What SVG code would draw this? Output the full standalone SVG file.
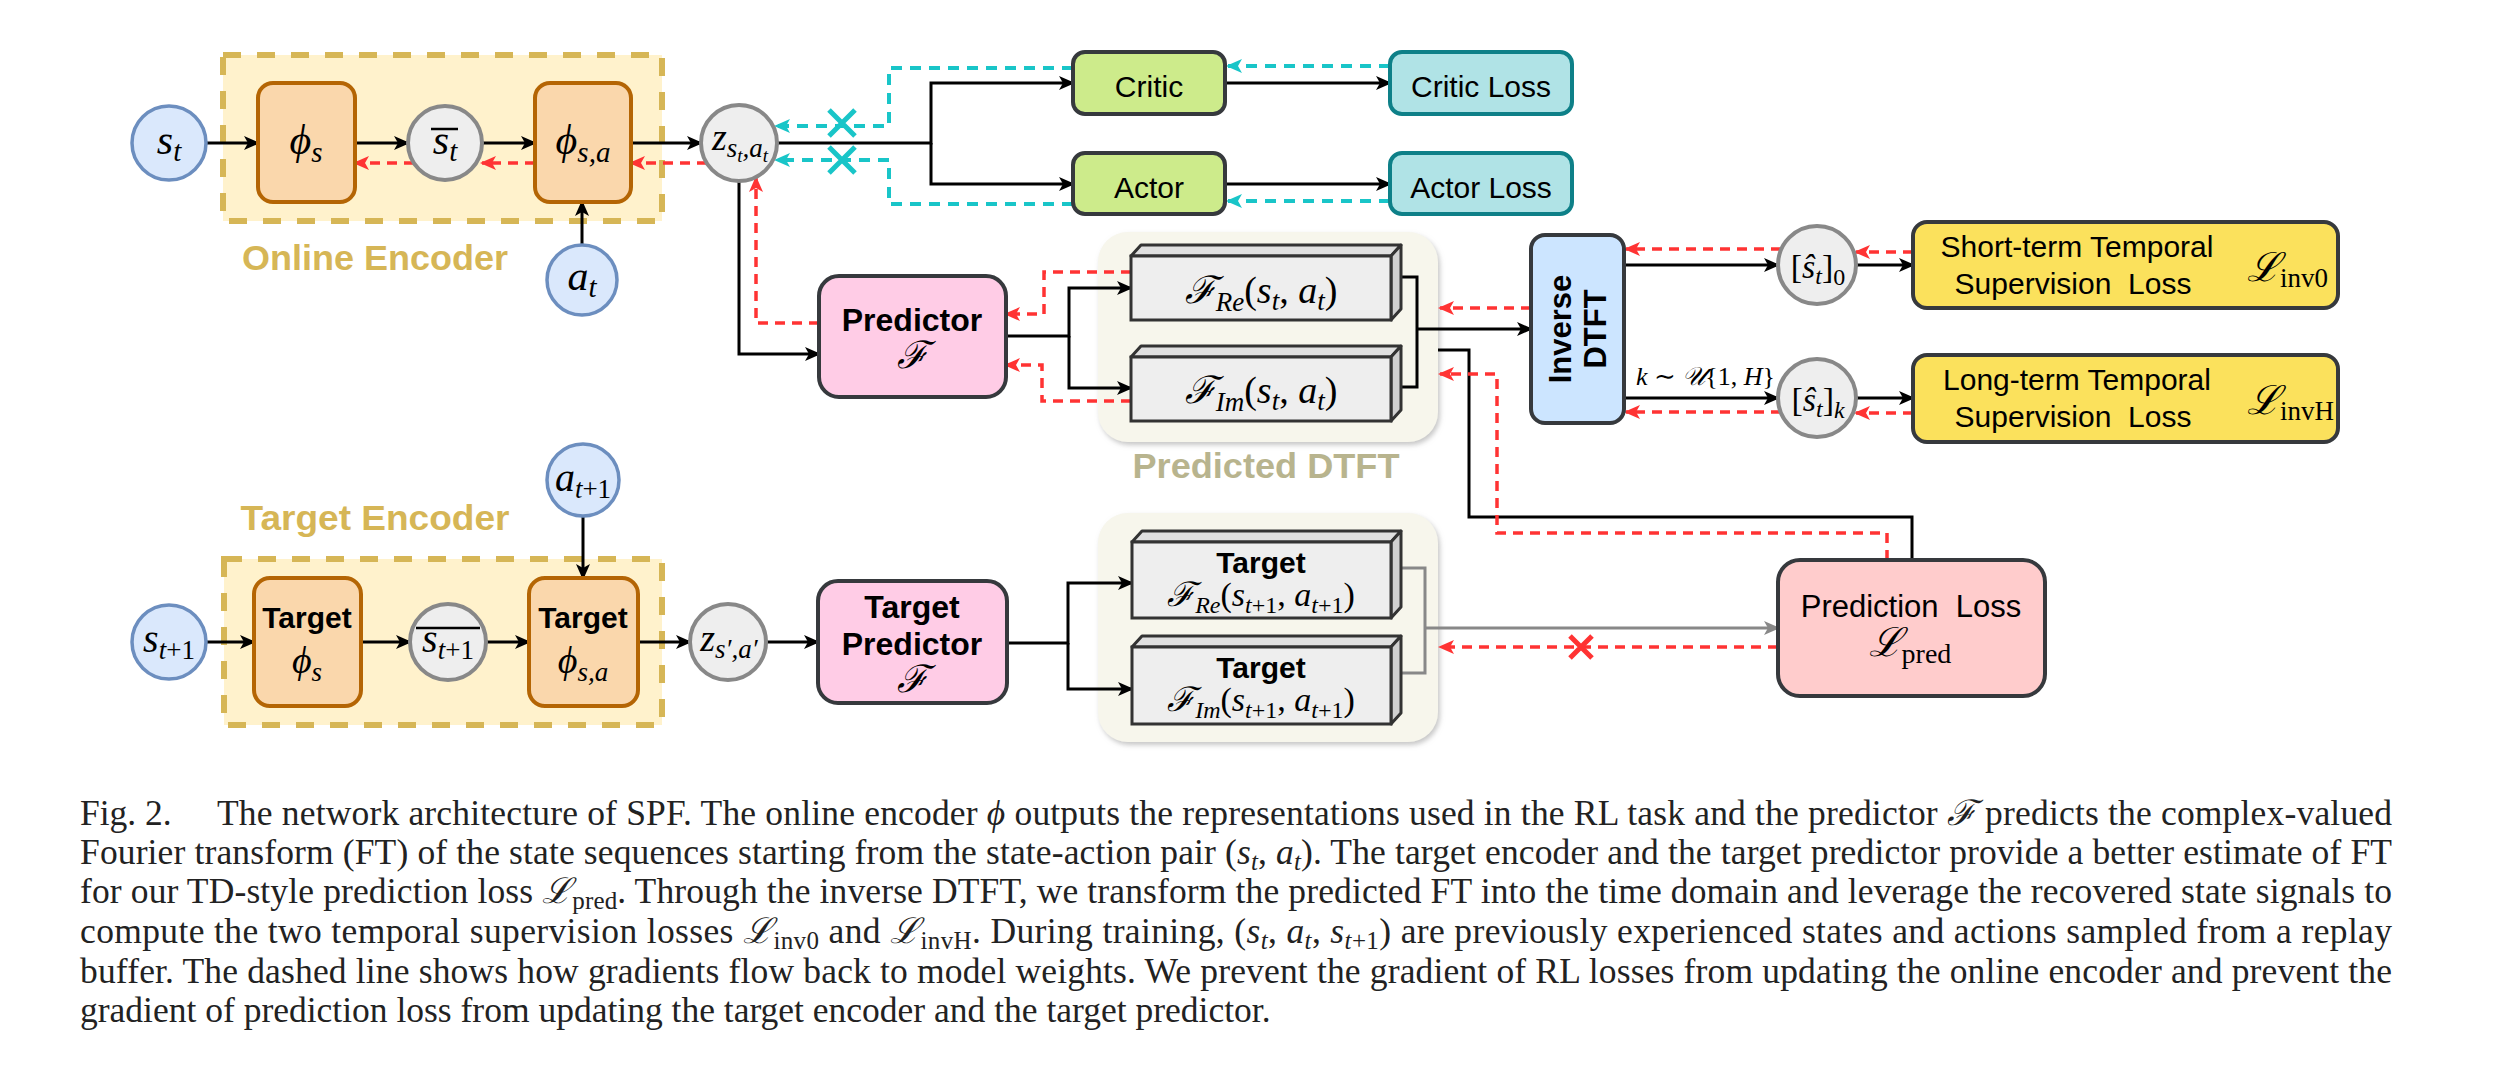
<svg xmlns="http://www.w3.org/2000/svg" width="2493" height="1068" viewBox="0 0 2493 1068">
<style>
.ln{fill:none;stroke:#000;stroke-width:3}
.rd{fill:none;stroke:#ff3333;stroke-width:3.5;stroke-dasharray:10 7}
.cy{fill:none;stroke:#19c5c8;stroke-width:4;stroke-dasharray:11 8}
.gy{fill:none;stroke:#888;stroke-width:3}
.xr{stroke:#ff3333;stroke-width:5;fill:none}
.xc{stroke:#19c5c8;stroke-width:5;fill:none}
.m{font-family:"Liberation Serif","DejaVu Serif",serif;font-style:italic;fill:#000}
.rm{font-style:normal}
.s{font-family:"Liberation Sans",Arial,sans-serif;fill:#000}
.b{font-weight:bold}
.bl{fill:#dae8fc;stroke:#6c8ebf;stroke-width:3.5}
.gc{fill:#eeeeee;stroke:#888888;stroke-width:4}
.or{fill:#fad7ac;stroke:#b46504;stroke-width:4}
.enc{fill:#fff2cc;stroke:#d6b656;stroke-width:6;stroke-dasharray:18 16}
.dk{stroke:#36393d;stroke-width:4}
.ff{fill:#eeeeee;stroke:#333;stroke-width:3}
.ft{fill:#e0e0e0;stroke:#333;stroke-width:3;stroke-linejoin:round}
.fr{fill:#d0d0d0;stroke:#333;stroke-width:3;stroke-linejoin:round}
.cap{font-family:"Liberation Serif","DejaVu Serif",serif;font-size:35.5px;fill:#222}
</style>
<defs>
<marker id="ab" viewBox="0 0 16 14" refX="14" refY="7" markerWidth="16" markerHeight="14" markerUnits="userSpaceOnUse" orient="auto"><path d="M0,0 L16,7 L0,14 L4,7 z" fill="#000"/></marker>
<marker id="ar" viewBox="0 0 16 14" refX="14" refY="7" markerWidth="16" markerHeight="14" markerUnits="userSpaceOnUse" orient="auto"><path d="M0,0 L16,7 L0,14 L4,7 z" fill="#ff3333"/></marker>
<marker id="ac" viewBox="0 0 16 14" refX="14" refY="7" markerWidth="16" markerHeight="14" markerUnits="userSpaceOnUse" orient="auto"><path d="M0,0 L16,7 L0,14 L4,7 z" fill="#19c5c8"/></marker>
<marker id="ag" viewBox="0 0 16 14" refX="14" refY="7" markerWidth="16" markerHeight="14" markerUnits="userSpaceOnUse" orient="auto"><path d="M0,0 L16,7 L0,14 L4,7 z" fill="#888"/></marker>
<filter id="sh" x="-5%" y="-5%" width="110%" height="115%"><feDropShadow dx="2" dy="3" stdDeviation="2.5" flood-color="#999" flood-opacity="0.55"/></filter>
</defs>
<rect width="2493" height="1068" fill="#fff"/>

<!-- containers -->
<g id="online-encoder">
<rect class="enc" x="223" y="55" width="439" height="166"/>
<text class="s b" x="375" y="270" text-anchor="middle" font-size="35" style="fill:#d6b656" textLength="266" lengthAdjust="spacingAndGlyphs">Online Encoder</text>
</g>
<g id="target-encoder">
<rect class="enc" x="224" y="559" width="438" height="166"/>
<text class="s b" x="375" y="530" text-anchor="middle" font-size="35" style="fill:#d6b656" textLength="269" lengthAdjust="spacingAndGlyphs">Target Encoder</text>
</g>
<g id="predicted-dtft">
<rect x="1098" y="232" width="340" height="210" rx="30" fill="#f7f6ec" filter="url(#sh)"/>
<text class="s b" x="1266" y="478" text-anchor="middle" font-size="35" style="fill:#b8b48e" textLength="267" lengthAdjust="spacingAndGlyphs">Predicted DTFT</text>
</g>
<g id="target-dtft">
<rect x="1098" y="513" width="340" height="229" rx="30" fill="#f7f6ec" filter="url(#sh)"/>
</g>

<!-- connectors -->
<g id="connectors">
<path class="ln" marker-end="url(#ab)" d="M206,143 H258"/>
<path class="ln" marker-end="url(#ab)" d="M355,143 H408"/>
<path class="ln" marker-end="url(#ab)" d="M482,143 H535"/>
<path class="ln" marker-end="url(#ab)" d="M631,143 H701"/>
<path class="ln" marker-end="url(#ab)" d="M582,245 V202"/>
<path class="ln" marker-end="url(#ab)" d="M739,181 V354 H819"/>
<path class="ln" marker-end="url(#ab)" d="M777,143 H931 V83 H1073"/>
<path class="ln" marker-end="url(#ab)" d="M931,143 V184 H1073"/>
<path class="ln" marker-end="url(#ab)" d="M1225,83 H1390"/>
<path class="ln" marker-end="url(#ab)" d="M1225,184 H1390"/>
<path class="ln" marker-end="url(#ab)" d="M1006,336 H1069 V288 H1131"/>
<path class="ln" marker-end="url(#ab)" d="M1069,336 V388 H1131"/>
<path class="ln" d="M1401,277 H1417 V387 H1401"/>
<path class="ln" marker-end="url(#ab)" d="M1417,329 H1531"/>
<path class="ln" d="M1438,350 H1469 V517 H1912 V560"/>
<path class="ln" marker-end="url(#ab)" d="M1624,265 H1778"/>
<path class="ln" marker-end="url(#ab)" d="M1856,265 H1913"/>
<path class="ln" marker-end="url(#ab)" d="M1624,398 H1778"/>
<path class="ln" marker-end="url(#ab)" d="M1856,398 H1913"/>
<path class="ln" marker-end="url(#ab)" d="M206,642 H254"/>
<path class="ln" marker-end="url(#ab)" d="M361,642 H410"/>
<path class="ln" marker-end="url(#ab)" d="M486,642 H529"/>
<path class="ln" marker-end="url(#ab)" d="M638,642 H690"/>
<path class="ln" marker-end="url(#ab)" d="M766,642 H818"/>
<path class="ln" marker-end="url(#ab)" d="M583,516 V578"/>
<path class="ln" marker-end="url(#ab)" d="M1007,643 H1068 V583 H1132"/>
<path class="ln" marker-end="url(#ab)" d="M1068,643 V689 H1132"/>
<path class="gy" d="M1401,568 H1425 V673 H1401"/>
<path class="gy" marker-end="url(#ag)" d="M1425,628 H1778"/>
<!-- gradient flows -->
<path class="rd" marker-end="url(#ar)" d="M707,163 H631"/>
<path class="rd" marker-end="url(#ar)" d="M535,163 H482"/>
<path class="rd" marker-end="url(#ar)" d="M414,163 H355"/>
<path class="rd" marker-end="url(#ar)" d="M819,323 H756 V178"/>
<path class="rd" marker-end="url(#ar)" d="M1131,272 H1044 V314 H1006"/>
<path class="rd" marker-end="url(#ar)" d="M1131,401 H1042 V365 H1006"/>
<path class="rd" marker-end="url(#ar)" d="M1531,308 H1440"/>
<path class="rd" marker-end="url(#ar)" d="M1887,560 V533 H1497 V374 H1440"/>
<path class="rd" marker-end="url(#ar)" d="M1781,249 H1626"/>
<path class="rd" marker-end="url(#ar)" d="M1913,252 H1856"/>
<path class="rd" marker-end="url(#ar)" d="M1781,412 H1626"/>
<path class="rd" marker-end="url(#ar)" d="M1913,413 H1856"/>
<path class="rd" marker-end="url(#ar)" d="M1778,647 H1440"/>
<path class="xr" d="M1570,636 L1592,658 M1592,636 L1570,658"/>
<path class="cy" marker-end="url(#ac)" d="M1073,68 H889 V126 H776"/>
<path class="cy" marker-end="url(#ac)" d="M1073,204 H889 V160 H776"/>
<path class="cy" marker-end="url(#ac)" d="M1390,66 H1228"/>
<path class="cy" marker-end="url(#ac)" d="M1390,201 H1228"/>
<path class="xc" d="M829,110 L855,136 M855,110 L829,136"/>
<path class="xc" d="M829,147 L855,173 M855,147 L829,173"/>
</g>

<!-- online nodes -->
<g id="s_t"><circle class="bl" cx="169" cy="143" r="37"/>
<text class="m" x="169" y="154" font-size="42" text-anchor="middle">s<tspan font-size="29" dy="7">t</tspan></text></g>
<g id="phi_s"><rect class="or" x="258" y="83" width="97" height="119" rx="15"/>
<text class="m" x="306" y="154" font-size="42" text-anchor="middle">ϕ<tspan font-size="29" dy="8">s</tspan></text></g>
<g id="s_t_bar"><circle class="gc" cx="445" cy="143" r="37"/>
<line x1="431" y1="129" x2="458" y2="129" stroke="#000" stroke-width="2.5"/>
<text class="m" x="445" y="154" font-size="42" text-anchor="middle">s<tspan font-size="29" dy="7">t</tspan></text></g>
<g id="phi_sa"><rect class="or" x="535" y="83" width="96" height="119" rx="15"/>
<text class="m" x="583" y="154" font-size="42" text-anchor="middle">ϕ<tspan font-size="29" dy="8">s,a</tspan></text></g>
<g id="a_t"><circle class="bl" cx="582" cy="280" r="35"/>
<text class="m" x="582" y="290" font-size="42" text-anchor="middle">a<tspan font-size="29" dy="7">t</tspan></text></g>
<g id="z_st_at"><circle class="gc" cx="739" cy="143" r="38"/>
<text class="m" x="740" y="150" font-size="38" text-anchor="middle">z<tspan font-size="27" dy="7">s</tspan><tspan font-size="19" dy="5">t</tspan><tspan font-size="27" dy="-5">,a</tspan><tspan font-size="19" dy="5">t</tspan></text></g>

<g id="critic"><rect class="dk" fill="#cdeb8b" x="1073" y="52" width="152" height="62" rx="12"/>
<text class="s" x="1149" y="97" font-size="30" text-anchor="middle">Critic</text></g>
<g id="actor"><rect class="dk" fill="#cdeb8b" x="1073" y="153" width="152" height="61" rx="12"/>
<text class="s" x="1149" y="198" font-size="30" text-anchor="middle">Actor</text></g>
<g id="critic-loss"><rect fill="#b0e3e6" stroke="#0e8088" stroke-width="4" x="1390" y="52" width="182" height="62" rx="12"/>
<text class="s" x="1481" y="97" font-size="30" text-anchor="middle">Critic Loss</text></g>
<g id="actor-loss"><rect fill="#b0e3e6" stroke="#0e8088" stroke-width="4" x="1390" y="153" width="182" height="61" rx="12"/>
<text class="s" x="1481" y="198" font-size="30" text-anchor="middle">Actor Loss</text></g>

<g id="predictor"><rect class="dk" fill="#ffcce6" x="819" y="276" width="187" height="121" rx="20"/>
<text class="s b" x="912" y="331" font-size="32" text-anchor="middle">Predictor</text>
<text class="m" x="912" y="368" font-size="38" text-anchor="middle">ℱ</text></g>

<g id="F_Re">
<polygon class="ft" points="1131,256 1141,245 1401,245 1391,256"/>
<polygon class="fr" points="1391,256 1401,245 1401,309 1391,320"/>
<rect class="ff" x="1131" y="256" width="260" height="64"/>
<text class="m" x="1261" y="303" font-size="38" text-anchor="middle">ℱ<tspan font-size="27" dy="8">Re</tspan><tspan class="rm" dy="-8">(</tspan>s<tspan font-size="27" dy="7">t</tspan><tspan class="rm" dy="-7">, </tspan>a<tspan font-size="27" dy="7">t</tspan><tspan class="rm" dy="-7">)</tspan></text></g>
<g id="F_Im">
<polygon class="ft" points="1131,357 1141,346 1401,346 1391,357"/>
<polygon class="fr" points="1391,357 1401,346 1401,410 1391,421"/>
<rect class="ff" x="1131" y="357" width="260" height="64"/>
<text class="m" x="1261" y="403" font-size="38" text-anchor="middle">ℱ<tspan font-size="27" dy="8">Im</tspan><tspan class="rm" dy="-8">(</tspan>s<tspan font-size="27" dy="7">t</tspan><tspan class="rm" dy="-7">, </tspan>a<tspan font-size="27" dy="7">t</tspan><tspan class="rm" dy="-7">)</tspan></text></g>

<g id="inverse-dtft"><rect class="dk" fill="#cce5ff" x="1531" y="235" width="93" height="188" rx="14"/>
<text class="s b" font-size="31" text-anchor="middle" transform="translate(1571,329) rotate(-90)">Inverse</text>
<text class="s b" font-size="31" text-anchor="middle" transform="translate(1606,329) rotate(-90)">DTFT</text></g>

<g id="s_hat_0"><circle class="gc" cx="1817" cy="265" r="39"/>
<text class="m" x="1818" y="278" font-size="34" text-anchor="middle"><tspan class="rm">[</tspan>ŝ<tspan font-size="24" dy="6">t</tspan><tspan class="rm" dy="-6">]</tspan><tspan class="rm" font-size="24" dy="7">0</tspan></text></g>
<g id="s_hat_k"><circle class="gc" cx="1817" cy="398" r="39"/>
<text class="m" x="1818" y="411" font-size="34" text-anchor="middle"><tspan class="rm">[</tspan>ŝ<tspan font-size="24" dy="6">t</tspan><tspan class="rm" dy="-6">]</tspan><tspan font-size="24" dy="7">k</tspan></text></g>
<text class="m" x="1636" y="385" font-size="26">k <tspan class="rm">∼ </tspan>𝒰<tspan class="rm">{1, </tspan>H<tspan class="rm">}</tspan></text>

<g id="short-term-loss"><rect class="dk" fill="#fbe15c" x="1913" y="222" width="425" height="86" rx="14"/>
<text class="s" x="2077" y="257" font-size="30" text-anchor="middle">Short-term Temporal</text>
<text class="s" x="2073" y="294" font-size="30" text-anchor="middle">Supervision&#160; Loss</text>
<text class="m" x="2247" y="281" font-size="40">ℒ<tspan class="rm" font-size="27" dy="6">inv0</tspan></text></g>
<g id="long-term-loss"><rect class="dk" fill="#fbe15c" x="1913" y="355" width="425" height="87" rx="14"/>
<text class="s" x="2077" y="390" font-size="30" text-anchor="middle">Long-term Temporal</text>
<text class="s" x="2073" y="427" font-size="30" text-anchor="middle">Supervision&#160; Loss</text>
<text class="m" x="2247" y="414" font-size="40">ℒ<tspan class="rm" font-size="27" dy="6">invH</tspan></text></g>

<g id="prediction-loss"><rect class="dk" fill="#ffcccc" x="1778" y="560" width="267" height="136" rx="22"/>
<text class="s" x="1911" y="617" font-size="31" text-anchor="middle">Prediction&#160; Loss</text>
<text class="m" x="1910" y="656" font-size="40" text-anchor="middle">ℒ<tspan class="rm" font-size="28" dy="7">pred</tspan></text></g>

<!-- target nodes -->
<g id="s_t1"><circle class="bl" cx="169" cy="642" r="37"/>
<text class="m" x="169" y="652" font-size="40" text-anchor="middle">s<tspan class="rm" font-size="27" dy="7"><tspan class="m">t</tspan>+1</tspan></text></g>
<g id="target-phi_s"><rect class="or" x="254" y="578" width="107" height="128" rx="16"/>
<text class="s b" x="307" y="628" font-size="30" text-anchor="middle">Target</text>
<text class="m" x="307" y="673" font-size="38" text-anchor="middle">ϕ<tspan font-size="27" dy="8">s</tspan></text></g>
<g id="s_t1_bar"><circle class="gc" cx="448" cy="642" r="38"/>
<line x1="416" y1="628" x2="480" y2="628" stroke="#000" stroke-width="2.5"/>
<text class="m" x="448" y="652" font-size="40" text-anchor="middle">s<tspan class="rm" font-size="27" dy="7"><tspan class="m">t</tspan>+1</tspan></text></g>
<g id="target-phi_sa"><rect class="or" x="529" y="578" width="109" height="128" rx="16"/>
<text class="s b" x="583" y="628" font-size="30" text-anchor="middle">Target</text>
<text class="m" x="583" y="673" font-size="38" text-anchor="middle">ϕ<tspan font-size="27" dy="8">s,a</tspan></text></g>
<g id="a_t1"><circle class="bl" cx="583" cy="480" r="36"/>
<text class="m" x="583" y="491" font-size="40" text-anchor="middle">a<tspan class="rm" font-size="27" dy="7"><tspan class="m">t</tspan>+1</tspan></text></g>
<g id="z_sa_prime"><circle class="gc" cx="728" cy="642" r="38"/>
<text class="m" x="729" y="651" font-size="38" text-anchor="middle">z<tspan font-size="27" dy="7">s′,a′</tspan></text></g>

<g id="target-predictor"><rect class="dk" fill="#ffcce6" x="818" y="581" width="189" height="122" rx="20"/>
<text class="s b" x="912" y="618" font-size="32" text-anchor="middle">Target</text>
<text class="s b" x="912" y="655" font-size="32" text-anchor="middle">Predictor</text>
<text class="m" x="912" y="692" font-size="38" text-anchor="middle">ℱ</text></g>

<g id="target-F_Re">
<polygon class="ft" points="1132,542 1142,531 1401,531 1391,542"/>
<polygon class="fr" points="1391,542 1401,531 1401,607 1391,618"/>
<rect class="ff" x="1132" y="542" width="259" height="76"/>
<text class="s b" x="1261" y="573" font-size="30" text-anchor="middle">Target</text>
<text class="m" x="1261" y="606" font-size="34" text-anchor="middle">ℱ<tspan font-size="24" dy="7">Re</tspan><tspan class="rm" dy="-7">(</tspan>s<tspan class="rm" font-size="24" dy="7"><tspan class="m">t</tspan>+1</tspan><tspan class="rm" dy="-7">, </tspan>a<tspan class="rm" font-size="24" dy="7"><tspan class="m">t</tspan>+1</tspan><tspan class="rm" dy="-7">)</tspan></text></g>
<g id="target-F_Im">
<polygon class="ft" points="1132,647 1142,636 1401,636 1391,647"/>
<polygon class="fr" points="1391,647 1401,636 1401,713 1391,724"/>
<rect class="ff" x="1132" y="647" width="259" height="77"/>
<text class="s b" x="1261" y="678" font-size="30" text-anchor="middle">Target</text>
<text class="m" x="1261" y="711" font-size="34" text-anchor="middle">ℱ<tspan font-size="24" dy="7">Im</tspan><tspan class="rm" dy="-7">(</tspan>s<tspan class="rm" font-size="24" dy="7"><tspan class="m">t</tspan>+1</tspan><tspan class="rm" dy="-7">, </tspan>a<tspan class="rm" font-size="24" dy="7"><tspan class="m">t</tspan>+1</tspan><tspan class="rm" dy="-7">)</tspan></text></g>

<!-- caption -->
<g id="caption">
<text class="cap" x="80" y="825">Fig. 2.</text>
<text class="cap" x="217" y="825" textLength="2175" lengthAdjust="spacing">The network architecture of SPF. The online encoder <tspan font-style="italic">ϕ</tspan> outputs the representations used in the RL task and the predictor <tspan font-style="italic">ℱ</tspan> predicts the complex-valued</text>
<text class="cap" x="80" y="864" textLength="2312" lengthAdjust="spacing">Fourier transform (FT) of the state sequences starting from the state-action pair (<tspan font-style="italic">s</tspan><tspan font-style="italic" font-size="25" dy="6">t</tspan><tspan dy="-6">, </tspan><tspan font-style="italic">a</tspan><tspan font-style="italic" font-size="25" dy="6">t</tspan><tspan dy="-6">). The target encoder and the target predictor provide a better estimate of FT</tspan></text>
<text class="cap" x="80" y="903" textLength="2312" lengthAdjust="spacing">for our TD-style prediction loss <tspan font-style="italic">ℒ</tspan><tspan font-size="25" dy="6">pred</tspan><tspan dy="-6">. Through the inverse DTFT, we transform the predicted FT into the time domain and leverage the recovered state signals to</tspan></text>
<text class="cap" x="80" y="943" textLength="2312" lengthAdjust="spacing">compute the two temporal supervision losses <tspan font-style="italic">ℒ</tspan><tspan font-size="25" dy="6">inv0</tspan><tspan dy="-6"> and </tspan><tspan font-style="italic">ℒ</tspan><tspan font-size="25" dy="6">invH</tspan><tspan dy="-6">. During training, (</tspan><tspan font-style="italic">s</tspan><tspan font-style="italic" font-size="25" dy="6">t</tspan><tspan dy="-6">, </tspan><tspan font-style="italic">a</tspan><tspan font-style="italic" font-size="25" dy="6">t</tspan><tspan dy="-6">, </tspan><tspan font-style="italic">s</tspan><tspan font-size="25" dy="6"><tspan font-style="italic">t</tspan>+1</tspan><tspan dy="-6">) are previously experienced states and actions sampled from a replay</tspan></text>
<text class="cap" x="80" y="983" textLength="2312" lengthAdjust="spacing">buffer. The dashed line shows how gradients flow back to model weights. We prevent the gradient of RL losses from updating the online encoder and prevent the</text>
<text class="cap" x="80" y="1022">gradient of prediction loss from updating the target encoder and the target predictor.</text>
</g>
</svg>
